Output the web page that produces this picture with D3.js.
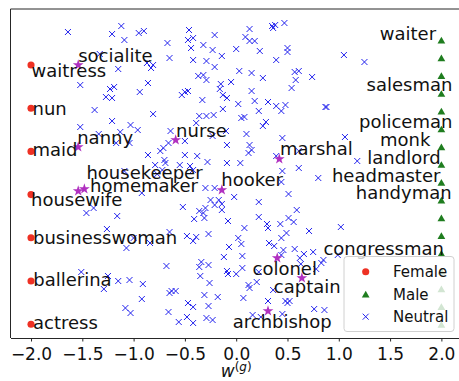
<!DOCTYPE html>
<html>
<head>
<meta charset="utf-8">
<script src="https://cdn.jsdelivr.net/npm/d3@7"></script>
<style>
  html, body { margin: 0; padding: 0; background: #fff; }
  svg { display: block; font-family: "DejaVu Sans", sans-serif; }
</style>
</head>
<body>
<svg id="chart" width="459" height="381"></svg>
<script>
// ---- data -------------------------------------------------------------
// x: gender direction score w^(g); y: position of the word in the list
const femaleWords = ["waitress", "nun", "maid", "housewife", "businesswoman", "ballerina", "actress"];
const femaleX = [-2, -2, -2, -2, -2, -2, -2];
const femaleY = [27.30, 22.98, 18.66, 14.34, 10.02, 5.70, 1.38];

const maleWords = ["waiter", "", "", "salesman", "", "policeman", "monk", "landlord",
                   "headmaster", "handyman", "", "", "congressman", "", "", "", ""];
const maleX = [2, 2, 2, 2, 2, 2, 2, 2, 2, 2, 2, 2, 2, 2, 2, 2, 2];
const maleY = [29.77, 28.00, 26.22, 24.44, 22.67, 20.89, 19.11, 17.34, 15.56,
               13.78, 12.01, 10.23, 8.46, 6.68, 4.90, 3.13, 1.35];

const starWords = ["socialite", "nanny", "nurse", "marshal", "housekeeper",
                   "homemaker", "hooker", "colonel", "captain", "archbishop"];
const starX = [-1.54, -1.54, -0.59, 0.42, -1.48, -1.54, -0.14, 0.40, 0.64, 0.31];
const starY = [27.3, 19.1, 19.8, 17.9, 14.9, 14.7, 14.8, 8.0, 6.0, 2.7];

const neutral = [
  [-1.64,30.6],[-1.21,30.4],[-1.12,31.2],[-1.09,29.8],[-1.33,28.4],[-1.15,26.9],[-1.52,25.3],
  [-1.23,24.9],[-1.19,25.1],[-1.27,24.1],[-1.21,24.0],[-1.38,22.8],[-1.21,21.7],[-1.52,21.1],
  [-1.34,20.4],[-1.03,21.3],[-1.13,20.6],[-1.17,19.5],[-1.04,19.5],[-1.09,16.7],
  [-0.95,30.5],[-0.90,30.7],[-0.67,29.5],[-0.46,30.8],[-0.47,29.8],[-0.42,30.0],[-0.44,29.0],
  [-0.32,29.3],[-0.21,30.3],[-0.23,28.8],[-0.14,28.2],[0.00,28.9],[0.09,30.1],[0.13,30.9],
  [0.13,29.7],[-0.65,28.0],[-0.87,27.5],[-0.83,27.0],[-0.81,27.3],[-0.42,27.8],[-0.29,27.7],
  [-0.21,27.1],[0.03,26.7],[0.15,26.5],[-0.86,25.5],[-0.94,24.6],[-0.53,24.3],[-0.50,24.6],
  [-0.47,24.7],[-0.37,26.2],[-0.32,26.3],[-0.29,25.8],[-0.33,23.8],[-0.15,25.4],[-0.16,24.9],
  [-0.05,25.6],[-0.13,24.3],[-0.09,24.0],[0.15,24.7],[0.02,23.4],[-0.13,22.9],[-0.22,22.3],
  [-0.29,22.2],[-0.36,22.2],[-0.39,21.5],[-0.81,22.4],[-0.96,20.8],[0.05,22.0],[0.08,22.1],
  [-0.10,20.7],[-0.23,20.2],[-0.09,19.3],[0.10,20.4],[0.13,19.3],[0.15,18.8],[0.12,18.5],
  [-0.64,20.7],[-0.66,19.5],[-0.71,19.0],[-0.74,18.7],[-0.86,18.3],[-0.50,19.7],[-0.50,18.3],
  [-0.38,18.2],[-0.28,17.6],[-0.70,17.8],[-0.69,17.5],[-0.79,17.3],[-0.55,17.3],[-0.45,17.2],
  [-0.09,17.5],[0.04,17.5],[-0.42,16.8],[-0.77,16.4],[-0.72,16.8],
  [0.35,31.2],[0.38,31.3],[0.47,31.5],[0.36,31.0],[0.18,29.7],[0.23,28.7],[0.39,27.8],
  [0.50,29.0],[0.50,28.6],[1.05,28.3],[1.25,27.6],[0.26,26.0],[0.57,26.6],[0.61,26.7],
  [0.58,25.8],[0.54,25.0],[0.74,26.1],[0.31,23.6],[0.39,23.2],[0.48,23.3],[0.44,22.7],
  [0.22,22.7],[0.18,23.7],[0.87,23.1],[0.88,23.1],[0.29,21.6],[0.26,21.2],[0.45,20.0],
  [0.61,18.7],[1.06,20.1],[1.18,17.7],[0.39,18.2],[0.45,16.7],[0.61,17.0],
  [-1.46,12.5],[-1.39,13.0],[-1.16,12.2],[-1.26,10.9],[-1.07,9.0],[-1.51,6.6],[-1.25,6.2],
  [-1.29,4.9],[-1.15,5.7],[-1.04,5.8],[-1.08,3.0],[-1.03,2.5],[-1.00,10.0],
  [-0.92,14.5],[-0.52,13.1],[-0.30,15.0],[-0.21,15.0],[-0.36,12.7],[-0.32,12.5],[-0.30,13.0],
  [-0.41,11.9],[-0.31,12.0],[-0.25,13.8],[-0.17,13.8],[-0.21,13.3],[-0.14,13.4],[-0.14,12.8],
  [-0.02,14.1],[-0.08,11.7],[0.08,11.0],[-0.65,10.6],[-0.84,9.5],[-0.48,10.2],[-0.39,10.1],
  [-0.42,9.7],[-0.27,10.4],[0.02,10.0],[0.05,9.4],[-0.07,9.1],[0.06,8.2],[-0.12,8.1],
  [-0.68,7.2],[-0.34,7.6],[-0.27,7.3],[-0.36,7.1],[-0.35,6.2],[-0.09,6.7],[-0.08,6.4],
  [0.00,6.4],[0.06,7.0],[-0.26,5.5],[-0.91,5.4],[-0.92,3.9],[-0.65,4.5],[-0.63,4.7],
  [-0.59,4.7],[-0.31,4.3],[-0.18,4.1],[0.07,4.0],[0.13,5.0],[0.12,5.3],[-0.47,3.5],
  [-0.42,3.1],[-0.66,2.6],[-0.27,3.2],[-0.48,2.1],[-0.56,1.6],[-0.42,1.5],[-0.29,2.0],
  [-0.23,1.8],
  [0.44,15.6],[0.80,16.0],[0.51,14.4],[0.22,13.6],[0.22,12.1],[0.59,12.8],[0.51,12.0],
  [0.56,11.6],[0.30,11.4],[0.31,11.0],[0.43,11.4],[0.71,10.7],[1.02,11.1],[0.49,10.5],
  [0.44,10.0],[0.32,9.5],[0.37,9.2],[0.46,8.8],[0.57,8.9],[0.44,8.3],[0.62,8.0],
  [0.66,8.4],[0.75,8.6],[0.99,8.3],[0.85,7.8],[0.83,7.5],[0.22,6.6],[0.20,5.6],
  [0.63,7.4],[0.78,6.9],[0.36,4.8],[0.31,3.7],[0.48,3.7],[0.50,3.5],[0.52,3.7],
  [0.76,2.9],[0.86,2.8],[0.45,2.4],[0.16,2.3],[0.24,2.1]
];

const xTicks = [-2.0, -1.5, -1.0, -0.5, 0.0, 0.5, 1.0, 1.5, 2.0];
const legendLabels = ["Female", "Male", "Neutral"];

// ---- label nudges (pixels, from the annotated point) -----------------
const femaleNudge = [[0.5, 12], [1.5, 6.5], [1.5, 5], [0, 11], [2, 6], [2.2, 5], [2, 5]];
const maleNudge = [[-5.3, -0.5], [0, 0], [0, 0], [11, -2.7], [0, 0], [11, -0.7], [-11, -1],
                   [-0.7, -1], [-1, -0.7], [10.3, -1.3], [0, 0], [0, 0], [2.6, 1.3],
                   [0, 0], [0, 0], [0, 0], [0, 0]];
const starNudge = [[0, -3], [-1, -3], [0.4, -3.4], [0.7, -4], [2.1, -9.7], [11.8, 1.3],
                   [-0.6, -4.3], [-24.7, 17.3], [-28, 15], [-35.3, 16.7]];

// ---- layout -----------------------------------------------------------
const plot = { left: 10.5, right: 461.9, top: 9, bottom: 338 };
const colors = { female: "#ee3124", male: "#1f7d1f", neutral: "#2323ee", star: "#b030c0" };

const svg = d3.select("#chart");
const x = d3.scaleLinear().domain([-2.2, 2.2]).range([plot.left, plot.right]);
const y = d3.scaleLinear().domain([0, 32.9]).range([plot.bottom, plot.top]);

const crossPath = "M-3,-3L3,3M-3,3L3,-3";
const triPath = d3.symbol(d3.symbolTriangle, 26)();
const circPath = d3.symbol(d3.symbolCircle, 40)();
const starPath = d3.symbol(d3.symbolStar, 36)();

// neutral words
svg.append("g").selectAll("path").data(neutral).join("path")
  .attr("d", crossPath)
  .attr("transform", d => `translate(${x(d[0])},${y(d[1])})`)
  .attr("fill", "none").attr("stroke", colors.neutral).attr("stroke-width", 1);

// female words
svg.append("g").selectAll("path").data(femaleY).join("path")
  .attr("d", circPath)
  .attr("transform", (d, i) => `translate(${x(femaleX[i])},${y(d)})`)
  .attr("fill", colors.female);

// male words
svg.append("g").selectAll("path").data(maleY).join("path")
  .attr("d", triPath)
  .attr("transform", (d, i) => `translate(${x(maleX[i])},${y(d) + 1})`)
  .attr("fill", colors.male);

// highlighted neutral words
svg.append("g").selectAll("path").data(starY).join("path")
  .attr("d", starPath)
  .attr("transform", (d, i) => `translate(${x(starX[i])},${y(d)})`)
  .attr("fill", colors.star);

// annotations
const labels = svg.append("g").attr("font-size", "18px").attr("fill", "#111");
femaleWords.forEach((w, i) => {
  labels.append("text")
    .attr("x", x(femaleX[i]) + femaleNudge[i][0])
    .attr("y", y(femaleY[i]) + femaleNudge[i][1])
    .text(w);
});
maleWords.forEach((w, i) => {
  if (!w) return;
  labels.append("text")
    .attr("text-anchor", "end")
    .attr("x", x(maleX[i]) + maleNudge[i][0])
    .attr("y", y(maleY[i]) + maleNudge[i][1])
    .text(w);
});
starWords.forEach((w, i) => {
  labels.append("text")
    .attr("x", x(starX[i]) + starNudge[i][0])
    .attr("y", y(starY[i]) + starNudge[i][1])
    .text(w);
});

// frame
const frame = svg.append("g").attr("stroke", "#262626").attr("stroke-width", 1).attr("fill", "none");
frame.append("line").attr("x1", plot.left).attr("x2", plot.right).attr("y1", plot.top).attr("y2", plot.top);
frame.append("line").attr("x1", plot.left).attr("x2", plot.left).attr("y1", plot.top).attr("y2", plot.bottom);
frame.append("line").attr("x1", plot.right).attr("x2", plot.right).attr("y1", plot.top).attr("y2", plot.bottom);

// x axis
const axis = svg.append("g")
  .attr("transform", `translate(0,${plot.bottom})`)
  .call(d3.axisBottom(x).tickValues(xTicks).tickFormat(d3.format(".1f"))
        .tickSizeInner(3.5).tickSizeOuter(0).tickPadding(6));
axis.select(".domain").attr("stroke", "#262626").attr("stroke-width", 1);
axis.selectAll(".tick line").attr("stroke", "#262626");
axis.selectAll(".tick text")
  .attr("font-family", "DejaVu Sans, sans-serif")
  .attr("font-size", "17px").attr("fill", "#111");

// x label: w^(g)
const xl = svg.append("text")
  .attr("x", (plot.left + plot.right) / 2)
  .attr("y", 377)
  .attr("text-anchor", "middle")
  .attr("font-size", "17px")
  .attr("fill", "#111");
xl.append("tspan").attr("font-style", "italic").text("w");
xl.append("tspan").attr("dy", -6).attr("font-size", "12px").text("(");
xl.append("tspan").attr("font-size", "12px").attr("font-style", "italic").text("g");
xl.append("tspan").attr("font-size", "12px").text(")");

// legend
const lg = svg.append("g").attr("transform", "translate(344,256.5)");
lg.append("rect")
  .attr("width", 110).attr("height", 75).attr("rx", 3)
  .attr("fill", "#fff").attr("fill-opacity", 0.8)
  .attr("stroke", "#d0d0d0").attr("stroke-width", 1);
const legendShapes = [
  { d: circPath, fill: colors.female, stroke: "none" },
  { d: triPath, fill: colors.male, stroke: "none" },
  { d: crossPath, fill: "none", stroke: colors.neutral }
];
legendLabels.forEach((name, i) => {
  const cy = 15.2 + i * 22.5;
  lg.append("path")
    .attr("d", legendShapes[i].d)
    .attr("transform", `translate(21.7,${cy + (i === 1 ? 1 : 0)})`)
    .attr("fill", legendShapes[i].fill)
    .attr("stroke", legendShapes[i].stroke)
    .attr("stroke-width", 1);
  lg.append("text")
    .attr("x", 49).attr("y", cy + 5.5)
    .attr("font-size", "15px").attr("fill", "#111")
    .text(name);
});
</script>
</body>
</html>
